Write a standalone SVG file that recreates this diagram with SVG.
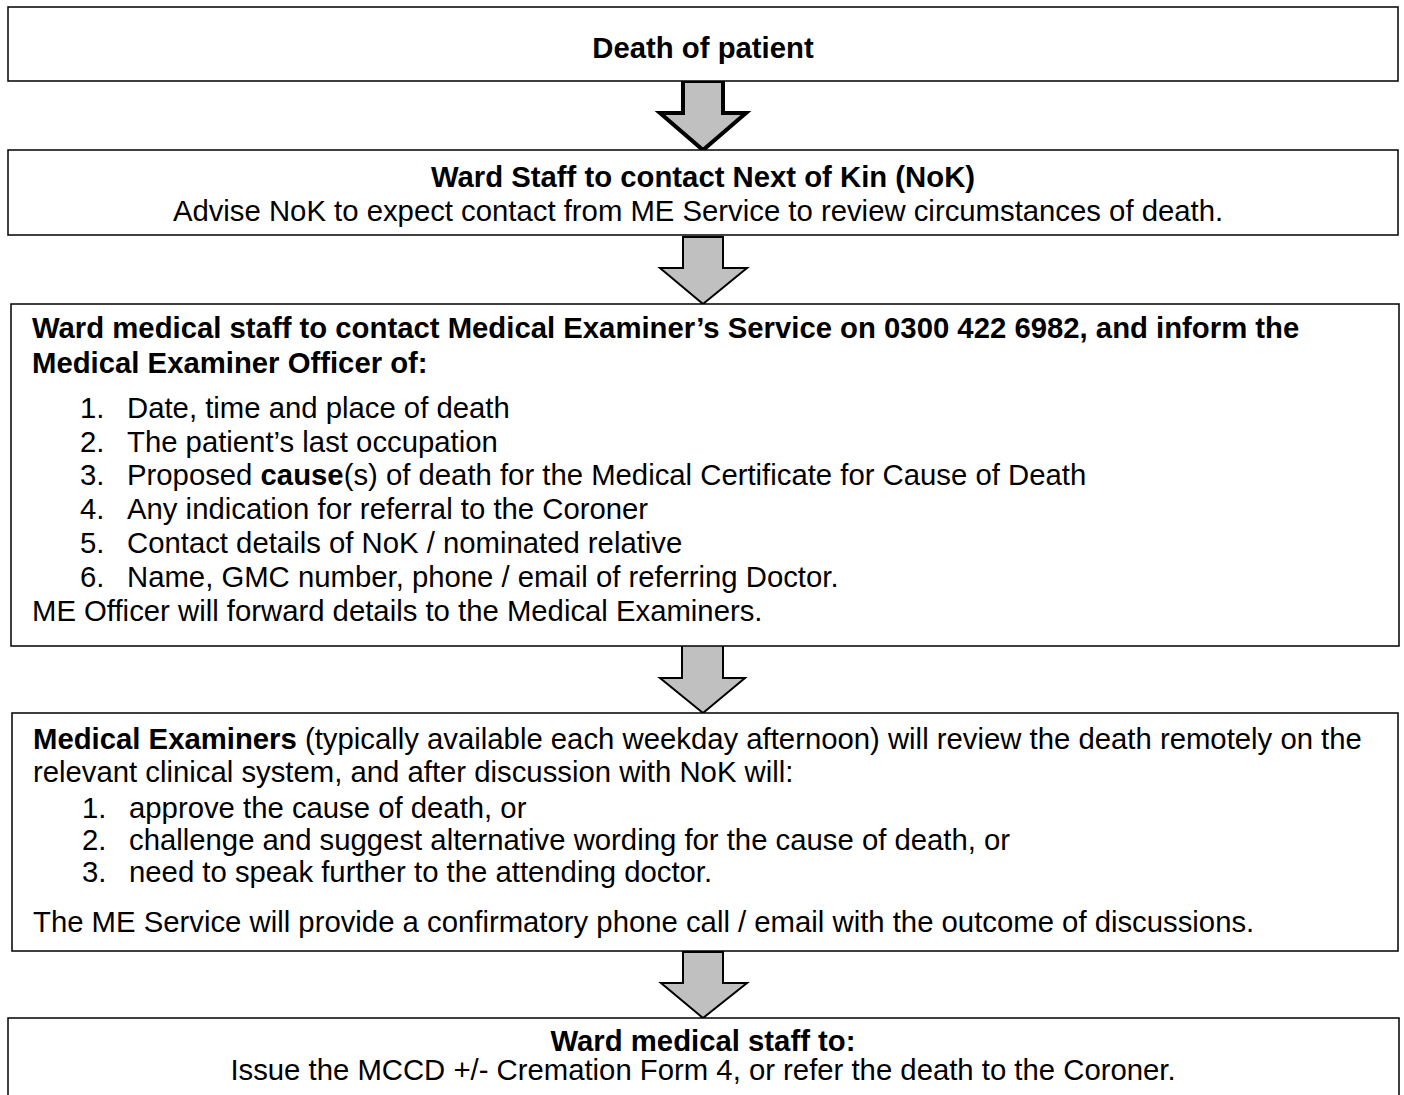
<svg xmlns="http://www.w3.org/2000/svg" width="1404" height="1095" viewBox="0 0 1404 1095">
<style>
.box{fill:#fff;stroke:#000;stroke-width:1.5}
.t{font-family:"Liberation Sans",Arial,sans-serif;font-size:29.3px;fill:#000}
.b{font-weight:bold}
.c{text-anchor:middle}
.arr{fill:#c0c0c0;stroke:#000;stroke-width:2;stroke-linejoin:miter}
</style>
<rect width="1404" height="1095" fill="#fff"/>
<g id="connectors">
<polygon class="arr" style="stroke-width:4" points="683,81 723,81 723,113 746,113 703,150 660,113 683,113"/>
<polygon class="arr" points="683,237 723,237 723,268 747,268 703,304 660,268 683,268"/>
<polygon class="arr" points="682,645 723,645 723,678 745,678 703,713 660,678 682,678"/>
<polygon class="arr" points="683,952 723,952 723,983 747,983 703,1018 661,983 683,983"/>
</g>
<g id="n1">
<rect class="box" x="8" y="7" width="1390" height="74"/>
<text class="t b c" x="703" y="58">Death of patient</text>
</g>
<g id="n2">
<rect class="box" x="8" y="150" width="1390" height="85"/>
<text class="t b c" x="703" y="187">Ward Staff to contact Next of Kin (NoK)</text>
<text class="t c" x="698" y="221">Advise NoK to expect contact from ME Service to review circumstances of death.</text>
</g>
<g id="n3">
<rect class="box" x="11" y="304" width="1388" height="342"/>
<text class="t b" x="32" y="338">Ward medical staff to contact Medical Examiner’s Service on 0300 422 6982, and inform the</text>
<text class="t b" x="32" y="373">Medical Examiner Officer of:</text>
<text class="t" x="80" y="418">1.</text><text class="t" x="127" y="418">Date, time and place of death</text>
<text class="t" x="80" y="452">2.</text><text class="t" x="127" y="452">The patient’s last occupation</text>
<text class="t" x="80" y="485">3.</text><text class="t" x="127" y="485">Proposed <tspan class="b">cause</tspan>(s) of death for the Medical Certificate for Cause of Death</text>
<text class="t" x="80" y="519">4.</text><text class="t" x="127" y="519">Any indication for referral to the Coroner</text>
<text class="t" x="80" y="553">5.</text><text class="t" x="127" y="553">Contact details of NoK / nominated relative</text>
<text class="t" x="80" y="587">6.</text><text class="t" x="127" y="587">Name, GMC number, phone / email of referring Doctor.</text>
<text class="t" x="32" y="621">ME Officer will forward details to the Medical Examiners.</text>
</g>
<g id="n4">
<rect class="box" x="12" y="713" width="1386" height="238"/>
<text class="t" x="33" y="749"><tspan class="b">Medical Examiners</tspan> (typically available each weekday afternoon) will review the death remotely on the</text>
<text class="t" x="33" y="782">relevant clinical system, and after discussion with NoK will:</text>
<text class="t" x="82" y="818">1.</text><text class="t" x="129" y="818">approve the cause of death, or</text>
<text class="t" x="82" y="850">2.</text><text class="t" x="129" y="850">challenge and suggest alternative wording for the cause of death, or</text>
<text class="t" x="82" y="882">3.</text><text class="t" x="129" y="882">need to speak further to the attending doctor.</text>
<text class="t" x="33" y="932">The ME Service will provide a confirmatory phone call / email with the outcome of discussions.</text>
</g>
<g id="n5">
<rect class="box" x="8" y="1018" width="1391" height="90"/>
<text class="t b c" x="703" y="1051">Ward medical staff to:</text>
<text class="t c" x="703" y="1080">Issue the MCCD +/- Cremation Form 4, or refer the death to the Coroner.</text>
</g>
</svg>
